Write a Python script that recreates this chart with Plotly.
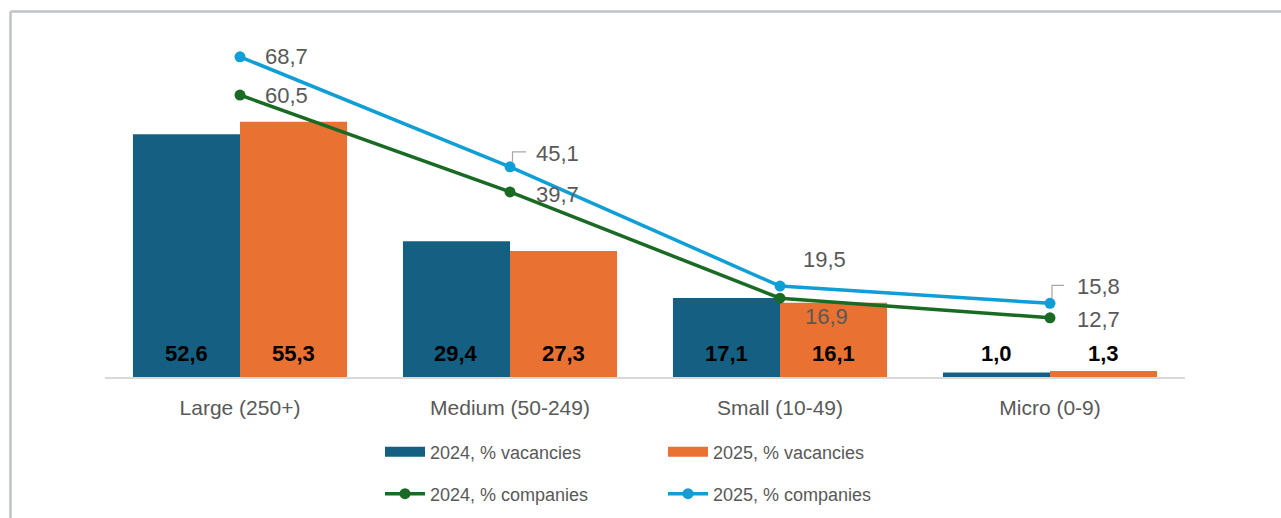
import plotly.graph_objects as go

# ---- data -------------------------------------------------------------
categories = ["Large (250+)", "Medium (50-249)", "Small (10-49)", "Micro (0-9)"]
vacancies_2024 = [52.6, 29.4, 17.1, 1.0]
vacancies_2025 = [55.3, 27.3, 16.1, 1.3]
companies_2024 = [60.5, 39.7, 16.9, 12.7]
companies_2025 = [68.7, 45.1, 19.5, 15.8]

series_names = ["2024, % vacancies", "2025, % vacancies",
                "2024, % companies", "2025, % companies"]

# ---- style ------------------------------------------------------------
C_VAC_24 = "#156082"
C_VAC_25 = "#E97132"
C_COM_24 = "#196B24"
C_COM_25 = "#0F9ED5"
TEXT_GREY = "#595959"
FONT = "Liberation Sans, Arial, sans-serif"

W, H = 1281, 518
M_L, M_R, M_T, M_B = 105, 96, 54, 141
PLOT_W = W - M_L - M_R
PLOT_H = H - M_T - M_B
BARGAP = 0.207


def fmt(v):
    return f"{v:.1f}".replace(".", ",")


def px_to_paper(px, py):
    return (px - M_L) / PLOT_W, (M_T + PLOT_H - py) / PLOT_H


fig = go.Figure()

# bars (their legend entries are drawn by the wide swatch entries below)
fig.add_trace(go.Bar(x=categories, y=vacancies_2024, name=series_names[0],
                     marker=dict(color=C_VAC_24, line=dict(width=0)),
                     legendgroup="v24", showlegend=False))
fig.add_trace(go.Bar(x=categories, y=vacancies_2025, name=series_names[1],
                     marker=dict(color=C_VAC_25, line=dict(width=0)),
                     legendgroup="v25", showlegend=False))

# wide rectangular swatches for the bar series in the legend
for name, color, grp, leg in ((series_names[0], C_VAC_24, "v24", "legend"),
                              (series_names[1], C_VAC_25, "v25", "legend2")):
    fig.add_trace(go.Scatter(x=[None], y=[None], mode="lines", name=name,
                             line=dict(color=color, width=12),
                             legendgroup=grp, legend=leg, hoverinfo="skip"))

fig.add_trace(go.Scatter(x=categories, y=companies_2024, name=series_names[2],
                         mode="lines+markers", yaxis="y2", cliponaxis=False,
                         line=dict(color=C_COM_24, width=3.5),
                         marker=dict(color=C_COM_24, size=11),
                         legend="legend3"))
fig.add_trace(go.Scatter(x=categories, y=companies_2025, name=series_names[3],
                         mode="lines+markers", yaxis="y2", cliponaxis=False,
                         line=dict(color=C_COM_25, width=3.5),
                         marker=dict(color=C_COM_25, size=11),
                         legend="legend4"))

annotations = []

# bar value labels, sitting just above the base of each bar
half = (1 - BARGAP) / 4
for values, sign in ((vacancies_2024, -1), (vacancies_2025, 1)):
    for i, v in enumerate(values):
        annotations.append(dict(
            x=i + sign * half, y=0, xref="x", yref="y",
            text=f"<b>{fmt(v)}</b>", showarrow=False,
            yanchor="middle", yshift=24,
            font=dict(family=FONT, size=22, color="#000000")))

# line value labels (offsets in px: right, up)
label_offsets = {
    "2024": [(23, 0), (24, -3), (23, -18), (25, -2)],
    "2025": [(23, 0), (24, 13), (21, 27), (25, 17)],
}
for key, values in (("2024", companies_2024), ("2025", companies_2025)):
    for i, v in enumerate(values):
        dx, dy = label_offsets[key][i]
        annotations.append(dict(
            x=i, y=v, xref="x", yref="y2",
            text=fmt(v), showarrow=False,
            xanchor="left", yanchor="middle", xshift=dx, yshift=dy,
            font=dict(family=FONT, size=22, color=TEXT_GREY)))

shapes = []
# leader lines for two of the 2025 labels
for i, path in ((1, "M2.5,5 V15 H16"), (3, "M2,5 V18 H14")):
    shapes.append(dict(type="path", xref="x", yref="y2",
                       xsizemode="pixel", ysizemode="pixel",
                       xanchor=i, yanchor=companies_2025[i], path=path,
                       line=dict(color="#A6A6A6", width=1.2)))

# chart frame (left and top edges)
fx0, fy0 = px_to_paper(10.5, 11.5)
fx1, _ = px_to_paper(W + 10, 0)
_, fy1 = px_to_paper(0, H + 10)
shapes.append(dict(type="line", xref="paper", yref="paper",
                   x0=fx0, x1=fx1, y0=fy0, y1=fy0,
                   line=dict(color="#BFC3C6", width=2.5)))
shapes.append(dict(type="line", xref="paper", yref="paper",
                   x0=fx0, x1=fx0, y0=fy0, y1=fy1,
                   line=dict(color="#BFC3C6", width=2.5)))


def legend_at(px, py):
    lx, ly = px_to_paper(px, py)
    return dict(x=lx, y=ly, xanchor="left", yanchor="middle",
                orientation="h", itemwidth=40, bgcolor="rgba(0,0,0,0)",
                borderwidth=0, font=dict(family=FONT, size=18, color=TEXT_GREY))


fig.update_layout(
    width=W, height=H,
    margin=dict(l=M_L, r=M_R, t=M_T, b=M_B, autoexpand=False),
    paper_bgcolor="white", plot_bgcolor="white",
    barmode="group", bargap=BARGAP, bargroupgap=0,
    font=dict(family=FONT, color=TEXT_GREY),
    xaxis=dict(type="category", showline=True, linecolor="#D9D9D9", linewidth=1.5,
               ticks="", showgrid=False, zeroline=False, ticklabelstandoff=11,
               tickfont=dict(family=FONT, size=21, color=TEXT_GREY)),
    yaxis=dict(range=[0, 70], visible=False, showgrid=False, zeroline=False),
    yaxis2=dict(range=[0, 69.3], overlaying="y", visible=False,
                showgrid=False, zeroline=False),
    showlegend=True,
    legend=legend_at(380, 452),
    legend2=legend_at(663, 452),
    legend3=legend_at(380, 494),
    legend4=legend_at(663, 494),
    annotations=annotations,
    shapes=shapes,
)

fig.write_html("out.html")
